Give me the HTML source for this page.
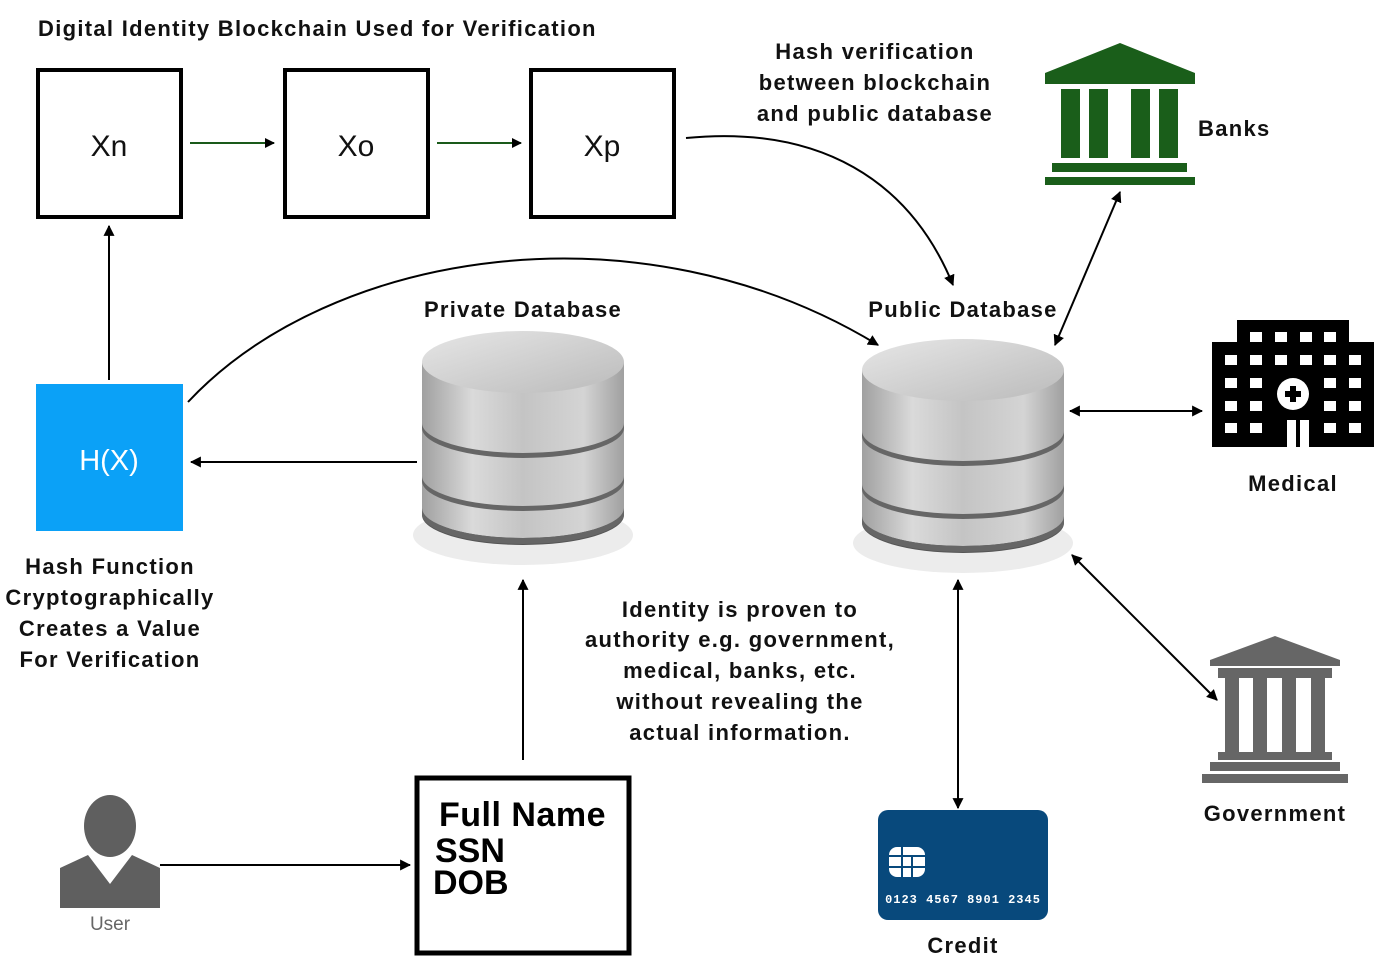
<!DOCTYPE html>
<html><head><meta charset="utf-8"><style>
body{margin:0;background:#fff;}
svg{display:block}
text{font-family:"Liberation Sans",sans-serif;font-weight:bold;fill:#111}
.w{letter-spacing:1.3px}
</style></head><body>
<svg width="1400" height="980" viewBox="0 0 1400 980" xmlns="http://www.w3.org/2000/svg">
<defs>
<marker id="a" viewBox="0 0 10 10" refX="9" refY="5" markerWidth="11" markerHeight="11" markerUnits="userSpaceOnUse" orient="auto-start-reverse"><path d="M0,0 L10,5 L0,10 Z" fill="#000"/></marker>
<marker id="ag" viewBox="0 0 10 10" refX="9" refY="5" markerWidth="10" markerHeight="10" markerUnits="userSpaceOnUse" orient="auto"><path d="M0,0 L10,5 L0,10 Z" fill="#000"/></marker>
<linearGradient id="body" x1="0" x2="1" y1="0" y2="0">
<stop offset="0" stop-color="#a0a0a0"/><stop offset="0.25" stop-color="#dadada"/><stop offset="0.5" stop-color="#c4c4c4"/><stop offset="0.8" stop-color="#d4d4d4"/><stop offset="1" stop-color="#a0a0a0"/></linearGradient>
<linearGradient id="top" x1="0" x2="1" y1="0" y2="1">
<stop offset="0" stop-color="#e6e6e6"/><stop offset="1" stop-color="#bbb"/></linearGradient>
<g id="cyl">
<ellipse cx="0" cy="205" rx="110" ry="30" fill="#ececec"/>
<path d="M-101,32 L-101,175 A101,30 0 0 0 101,175 L101,185 A101,30 0 0 1 -101,185 Z" fill="#555"/>
<path d="M-101,32 L-101,178 A101,30 0 0 0 101,178 L101,32 Z" fill="url(#body)"/>
<path d="M-101,178 A101,30 0 0 0 101,178 L101,184 A101,30 0 0 1 -101,184 Z" fill="#666"/>
<path d="M-101,93 A101,30 0 0 0 101,93 L101,98 A101,30 0 0 1 -101,98 Z" fill="#666"/>
<path d="M-101,146 A101,30 0 0 0 101,146 L101,151 A101,30 0 0 1 -101,151 Z" fill="#666"/>
<ellipse cx="0" cy="32" rx="101" ry="31" fill="url(#top)"/>
</g>
</defs>

<text class="w" x="38" y="36" font-size="22">Digital Identity Blockchain Used for Verification</text>

<rect x="38" y="70" width="143" height="147" fill="none" stroke="#000" stroke-width="4"/>
<rect x="285" y="70" width="143" height="147" fill="none" stroke="#000" stroke-width="4"/>
<rect x="531" y="70" width="143" height="147" fill="none" stroke="#000" stroke-width="4"/>
<text x="109" y="156" font-size="30" text-anchor="middle" style="font-weight:normal">Xn</text>
<text x="356" y="156" font-size="30" text-anchor="middle" style="font-weight:normal">Xo</text>
<text x="602" y="156" font-size="30" text-anchor="middle" style="font-weight:normal">Xp</text>
<line x1="190" y1="143" x2="274" y2="143" stroke="#1a5a1a" stroke-width="2" marker-end="url(#ag)"/>
<line x1="437" y1="143" x2="521" y2="143" stroke="#1a5a1a" stroke-width="2" marker-end="url(#ag)"/>

<text class="w" font-size="22" text-anchor="middle"><tspan x="875" y="59">Hash verification</tspan><tspan x="875" y="90">between blockchain</tspan><tspan x="875" y="121">and public database</tspan></text>
<path d="M686,138 C820,125 910,180 953,285" fill="none" stroke="#000" stroke-width="2" marker-end="url(#a)"/>

<!-- Banks -->
<g fill="#1a5e1a">
<polygon points="1120,43 1195,73 1195,84 1045,84 1045,73"/>
<rect x="1061" y="89" width="19" height="69"/><rect x="1089" y="89" width="19" height="69"/>
<rect x="1131" y="89" width="19" height="69"/><rect x="1159" y="89" width="19" height="69"/>
<rect x="1052" y="163" width="135" height="9"/><rect x="1045" y="177" width="150" height="8"/>
</g>
<text class="w" x="1198" y="136" font-size="22">Banks</text>

<!-- Hash function -->
<rect x="36" y="384" width="147" height="147" fill="#0ba1f7"/>
<text x="109" y="470" font-size="29" text-anchor="middle" style="font-weight:normal;fill:#fff">H(X)</text>
<line x1="109" y1="380" x2="109" y2="226" stroke="#000" stroke-width="2" marker-end="url(#a)"/>
<text class="w" font-size="22" text-anchor="middle"><tspan x="110" y="574">Hash Function</tspan><tspan x="110" y="605">Cryptographically</tspan><tspan x="110" y="636">Creates a Value</tspan><tspan x="110" y="667">For Verification</tspan></text>
<path d="M188,402 C330,250 640,200 878,345" fill="none" stroke="#000" stroke-width="2" marker-end="url(#a)"/>

<text class="w" x="523" y="317" font-size="22" text-anchor="middle">Private Database</text>
<text class="w" x="963" y="317" font-size="22" text-anchor="middle">Public Database</text>
<use href="#cyl" x="523" y="330"/>
<use href="#cyl" x="963" y="338"/>
<line x1="417" y1="462" x2="191" y2="462" stroke="#000" stroke-width="2" marker-end="url(#a)"/>
<line x1="523" y1="760" x2="523" y2="580" stroke="#000" stroke-width="2" marker-end="url(#a)"/>

<line x1="1055" y1="345" x2="1120" y2="192" stroke="#000" stroke-width="2" marker-start="url(#a)" marker-end="url(#a)"/>
<line x1="1070" y1="411" x2="1202" y2="411" stroke="#000" stroke-width="2" marker-start="url(#a)" marker-end="url(#a)"/>
<line x1="1072" y1="555" x2="1217" y2="700" stroke="#000" stroke-width="2" marker-start="url(#a)" marker-end="url(#a)"/>
<line x1="958" y1="580" x2="958" y2="808" stroke="#000" stroke-width="2" marker-start="url(#a)" marker-end="url(#a)"/>

<!-- Medical -->
<g fill="#000">
<rect x="1237" y="320" width="112" height="30"/>
<rect x="1212" y="342" width="162" height="105"/>
</g>
<g fill="#fff">
<rect x="1250" y="332" width="12" height="10"/><rect x="1275" y="332" width="12" height="10"/><rect x="1300" y="332" width="12" height="10"/><rect x="1324" y="332" width="12" height="10"/>
<rect x="1225" y="355" width="12" height="10"/><rect x="1250" y="355" width="12" height="10"/><rect x="1275" y="355" width="12" height="10"/><rect x="1300" y="355" width="12" height="10"/><rect x="1324" y="355" width="12" height="10"/><rect x="1349" y="355" width="12" height="10"/>
<rect x="1225" y="378" width="12" height="10"/><rect x="1250" y="378" width="12" height="10"/><rect x="1324" y="378" width="12" height="10"/><rect x="1349" y="378" width="12" height="10"/>
<rect x="1225" y="401" width="12" height="10"/><rect x="1250" y="401" width="12" height="10"/><rect x="1324" y="401" width="12" height="10"/><rect x="1349" y="401" width="12" height="10"/>
<rect x="1225" y="423" width="12" height="10"/><rect x="1250" y="423" width="12" height="10"/><rect x="1324" y="423" width="12" height="10"/><rect x="1349" y="423" width="12" height="10"/>
<rect x="1287" y="420" width="9" height="27"/><rect x="1300" y="420" width="9" height="27"/>
<circle cx="1293" cy="394" r="16"/>
</g>
<path d="M1290,386 h6 v5 h5 v6 h-5 v5 h-6 v-5 h-5 v-6 h5 z" fill="#000"/>
<text class="w" x="1293" y="491" font-size="22" text-anchor="middle">Medical</text>

<!-- Government -->
<g fill="#666">
<polygon points="1275,636 1340,660 1340,666 1210,666 1210,660"/>
<rect x="1218" y="668" width="114" height="10"/>
<rect x="1225" y="678" width="14" height="74"/><rect x="1253" y="678" width="14" height="74"/><rect x="1282" y="678" width="14" height="74"/><rect x="1311" y="678" width="14" height="74"/>
<rect x="1218" y="752" width="114" height="8"/>
<rect x="1210" y="762" width="130" height="9"/>
<rect x="1202" y="774" width="146" height="9"/>
</g>
<text class="w" x="1275" y="821" font-size="22" text-anchor="middle">Government</text>

<text class="w" font-size="22" text-anchor="middle"><tspan x="740" y="617">Identity is proven to</tspan><tspan x="740" y="647">authority e.g. government,</tspan><tspan x="740" y="678">medical, banks, etc.</tspan><tspan x="740" y="709">without revealing the</tspan><tspan x="740" y="740">actual information.</tspan></text>

<!-- Credit card -->
<rect x="878" y="810" width="170" height="110" rx="10" fill="#08497c"/>
<rect x="889" y="847" width="36" height="30" rx="8" fill="#fff"/>
<g stroke="#08497c" stroke-width="2"><line x1="889" y1="856" x2="925" y2="856"/><line x1="889" y1="867" x2="925" y2="867"/><line x1="902" y1="847" x2="902" y2="877"/><line x1="912" y1="856" x2="912" y2="877"/></g>
<text x="963" y="903" font-size="12" text-anchor="middle" style="font-family:'Liberation Mono',monospace;fill:#fff;font-weight:bold;letter-spacing:1px">0123 4567 8901 2345</text>
<text class="w" x="963" y="953" font-size="22" text-anchor="middle">Credit</text>

<!-- User -->
<g fill="#5f5f5f">
<ellipse cx="110" cy="826" rx="26" ry="31"/>
<path d="M60,908 L60,868 L88,855 L110,884 L132,855 L160,868 L160,908 Z"/>
</g>
<text x="110" y="930" font-size="19" text-anchor="middle" style="fill:#666;font-weight:normal">User</text>
<line x1="160" y1="865" x2="410" y2="865" stroke="#000" stroke-width="2" marker-end="url(#a)"/>

<rect x="417" y="778" width="212" height="175" fill="none" stroke="#000" stroke-width="5"/>
<text font-size="34" style="fill:#000"><tspan x="439" y="826" letter-spacing="0.5">Full Name</tspan><tspan x="435" y="862">SSN</tspan><tspan x="433" y="894">DOB</tspan></text>
</svg>
</body></html>
